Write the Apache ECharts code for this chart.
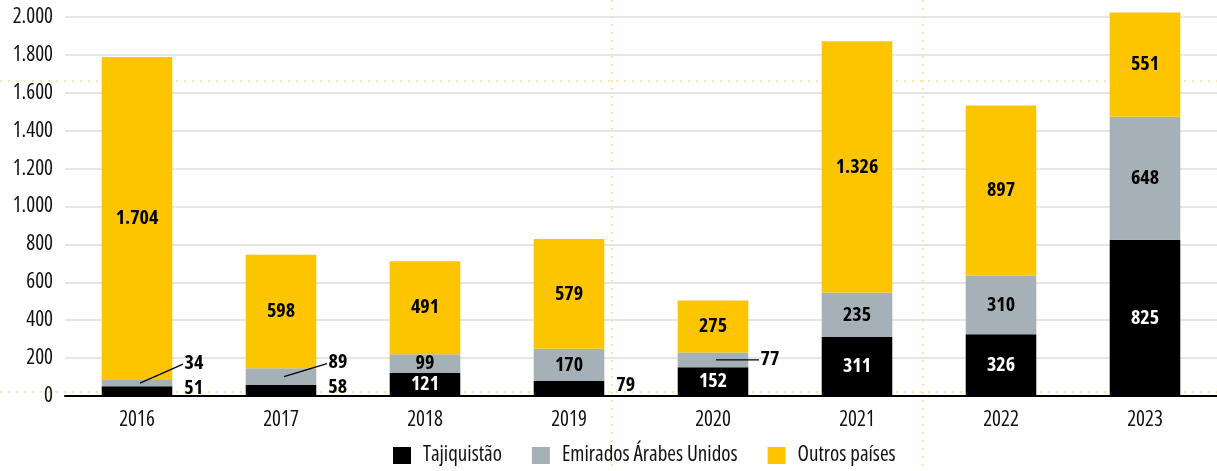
<!DOCTYPE html>
<html>
<head>
<meta charset="utf-8">
<script src="https://cdn.jsdelivr.net/npm/echarts@6/dist/echarts.min.js"></script>
<style>
  html, body { margin: 0; padding: 0; background: #fff; }
  #chart { width: 1217px; height: 471px; }
</style>
</head>
<body>
<div id="chart"></div>
<script>
const years = ['2016', '2017', '2018', '2019', '2020', '2021', '2022', '2023'];
const tajiquistao = [51, 58, 121, 79, 152, 311, 326, 825];
const emirados = [34, 89, 99, 170, 77, 235, 310, 648];
const outros = [1704, 598, 491, 579, 275, 1326, 897, 551];
const yTicks = [0, 200, 400, 600, 800, 1000, 1200, 1400, 1600, 1800, 2000];

const colors = ['#000000', '#a5b1b7', '#fdc500'];

// pick the narrowest condensed face we can actually get
function pickFont() {
    const ctx = document.createElement('canvas').getContext('2d');
    const sample = 'Tajiquistão Emirados 2.000 1.704';
    const measure = f => { ctx.font = f; return ctx.measureText(sample).width; };
    const base = measure('20px monospace');
    const candidates = [
        { stretch: 'normal', family: '"Liberation Sans Narrow"' },
        { stretch: 'normal', family: '"DejaVu Sans Condensed"' },
        { stretch: 'normal', family: '"Roboto Condensed"' },
        { stretch: 'condensed', family: '"Noto Sans"' },
        { stretch: 'condensed', family: '"Open Sans"' },
        { stretch: 'condensed', family: 'Roboto' },
        { stretch: 'condensed', family: '"DejaVu Sans"' },
        { stretch: 'normal', family: '"Liberation Sans"' }
    ];
    let best = candidates[candidates.length - 1];
    let bestW = Infinity;
    candidates.forEach(c => {
        const w = measure(c.stretch + ' 20px ' + c.family + ', monospace');
        if (Math.abs(w - base) > 0.5 && w < bestW) { bestW = w; best = c; }
    });
    console.log('font', best.stretch, best.family, bestW);
    return best;
}
const picked = pickFont();
const FONT = picked.family + ', sans-serif';
const STRETCH = picked.stretch;

// thousands with a dot, like the source
function fmt(v) {
    return String(v).replace(/\B(?=(\d{3})+(?!\d))/g, '.');
}

// small values: label placed beside the bar; some with a leader line
const besideRight = { 0: true, 1: true, 3: true };      // tajiquistao index
const leaderOffset = { 0: [57, -20], 1: [57, -14], 4: [57, -1] }; // emirados index

const chart = echarts.init(document.getElementById('chart'));

const textBase = { fontFamily: FONT, fontStyle: STRETCH, fontSize: 21, color: '#111' };
const labelBase = {
    show: true,
    fontFamily: FONT,
    fontStyle: STRETCH,
    fontWeight: 'bold',
    fontSize: 20,
    formatter: p => fmt(p.value)
};

const tajData = tajiquistao.map((v, i) => {
    if (besideRight[i]) {
        return { value: v, label: { position: 'right', distance: 12, color: '#000', offset: [0, -3] } };
    }
    return v;
});
const uaeData = emirados.map((v, i) => {
    if (leaderOffset[i]) {
        return { value: v, label: { position: 'inside', offset: leaderOffset[i] } };
    }
    return v;
});

const option = {
    animation: false,
    color: colors,
    grid: { left: 65, right: 0, top: 17, bottom: 75, outerBoundsMode: 'none' },
    legend: {
        bottom: 0,
        left: 388,
        icon: 'rect',
        itemWidth: 18,
        itemHeight: 17,
        itemGap: 30,
        textStyle: Object.assign({}, textBase, { padding: [0, 0, 0, 7] }),
        data: ['Tajiquistão', 'Emirados Árabes Unidos', 'Outros países']
    },
    xAxis: {
        type: 'category',
        data: years,
        axisLine: { lineStyle: { color: '#000', width: 2 } },
        axisTick: { show: false },
        axisLabel: Object.assign({}, textBase, { margin: 14 })
    },
    yAxis: {
        type: 'value',
        min: yTicks[0],
        max: yTicks[yTicks.length - 1],
        interval: yTicks[1] - yTicks[0],
        axisLine: { show: false },
        axisTick: { show: false },
        splitLine: { lineStyle: { color: '#dedede', width: 1.5 } },
        axisLabel: Object.assign({}, textBase, { margin: 12, formatter: fmt })
    },
    series: [
        {
            name: 'Tajiquistão', type: 'bar', stack: 'total', barWidth: '49%', clip: false,
            label: Object.assign({}, labelBase, { position: 'inside', color: '#fff' }),
            data: tajData
        },
        {
            name: 'Emirados Árabes Unidos', type: 'bar', stack: 'total', barWidth: '49%', clip: false,
            label: Object.assign({}, labelBase, { position: 'inside', color: '#000' }),
            data: uaeData
        },
        {
            name: 'Outros países', type: 'bar', stack: 'total', barWidth: '49%', clip: false,
            label: Object.assign({}, labelBase, { position: 'inside', color: '#000' }),
            data: outros
        }
    ]
};
chart.setOption(option);

// leader lines from the middle of the UAE segment to the moved label
function drawExtras() {
    const elements = [];
    Object.keys(leaderOffset).forEach(k => {
        const i = Number(k);
        const mid = tajiquistao[i] + emirados[i] / 2;
        const p = chart.convertToPixel({ seriesIndex: 1 }, [years[i], mid]);
        const off = leaderOffset[i];
        elements.push({
            type: 'line',
            z: 10,
            shape: { x1: p[0] + 3, y1: p[1], x2: p[0] + off[0] - 11, y2: p[1] + off[1] + 1 },
            style: { stroke: '#000', lineWidth: 1.3 }
        });
    });
    // faint dotted guide lines behind the chart
    const guide = { stroke: '#fbe6a6', lineWidth: 2, lineDash: [2, 6] };
    [81, 392].forEach(y => elements.push({
        type: 'line', z: -10, silent: true,
        shape: { x1: 0, y1: y, x2: 1217, y2: y }, style: guide
    }));
    [612, 923].forEach(x => elements.push({
        type: 'line', z: -10, silent: true,
        shape: { x1: x, y1: 0, x2: x, y2: 471 }, style: guide
    }));
    chart.setOption({ graphic: elements });
}
drawExtras();
</script>
</body>
</html>
